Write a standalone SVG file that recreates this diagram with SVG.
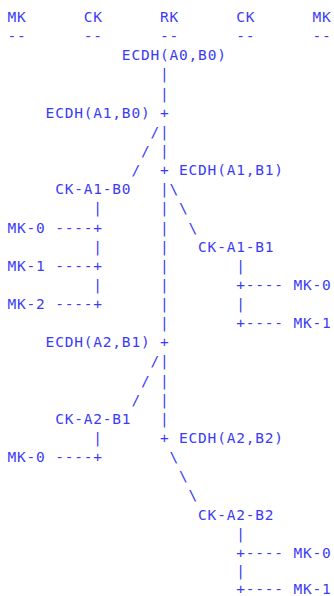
<svg xmlns="http://www.w3.org/2000/svg" width="334" height="596" viewBox="0 0 334 596">
<style>
text{font-family:"DejaVu Sans Mono","Liberation Mono",monospace;font-size:14.5px;letter-spacing:0.8px;fill:#3c3cf5;white-space:pre}
</style>
<rect width="334" height="596" fill="#ffffff"/>
<g id="hdr-mk-left"><text x="7.5" y="22">MK</text><text x="7.5" y="41.1">--</text></g>
<g id="hdr-ck-left"><text x="83.74" y="22">CK</text><text x="83.74" y="41.1">--</text></g>
<g id="hdr-rk"><text x="159.98" y="22">RK</text><text x="159.98" y="41.1">--</text></g>
<g id="hdr-ck-right"><text x="236.22" y="22">CK</text><text x="236.22" y="41.1">--</text></g>
<g id="hdr-mk-right"><text x="312.46" y="22">MK</text><text x="312.46" y="41.1">--</text></g>
<g id="ecdh-a0b0"><text x="121.86" y="60.3">ECDH(A0,B0)</text></g>
<g id="ecdh-a1b0"><text x="45.62" y="117.7">ECDH(A1,B0)</text></g>
<g id="ecdh-a1b1"><text x="179.04" y="175.1">ECDH(A1,B1)</text></g>
<g id="ck-a1b0"><text x="55.15" y="194.2">CK-A1-B0</text></g>
<g id="mk0-a1b0"><text x="7.5" y="232.5">MK-0</text></g>
<g id="ck-a1b1"><text x="198.1" y="251.6">CK-A1-B1</text></g>
<g id="mk1-a1b0"><text x="7.5" y="270.8">MK-1</text></g>
<g id="mk0-a1b1"><text x="293.4" y="289.9">MK-0</text></g>
<g id="mk2-a1b0"><text x="7.5" y="309">MK-2</text></g>
<g id="mk1-a1b1"><text x="293.4" y="328.1">MK-1</text></g>
<g id="ecdh-a2b1"><text x="45.62" y="347.3">ECDH(A2,B1)</text></g>
<g id="ck-a2b1"><text x="55.15" y="423.8">CK-A2-B1</text></g>
<g id="ecdh-a2b2"><text x="179.04" y="442.9">ECDH(A2,B2)</text></g>
<g id="mk0-a2b1"><text x="7.5" y="462.1">MK-0</text></g>
<g id="ck-a2b2"><text x="198.1" y="519.5">CK-A2-B2</text></g>
<g id="mk0-a2b2"><text x="293.4" y="557.5">MK-0</text></g>
<g id="mk1-a2b2"><text x="293.4" y="594">MK-1</text></g>
<g id="connectors">
<text x="159.98" y="79.4">|</text>
<text x="159.98" y="98.5">|</text>
<text x="159.98" y="117.7">+</text>
<text x="150.45" y="136.8">/|</text>
<text x="140.92" y="156">/ |</text>
<text x="131.39" y="175.1">/  +</text>
<text x="159.98" y="194.2">|\</text>
<text x="93.27" y="213.4">|      | \</text>
<text x="55.15" y="232.5">----+      |  \</text>
<text x="93.27" y="251.6">|      |</text>
<text x="55.15" y="270.8">----+      |       |</text>
<text x="93.27" y="289.9">|      |       +----</text>
<text x="55.15" y="309">----+      |       |</text>
<text x="159.98" y="328.1">|       +----</text>
<text x="159.98" y="347.3">+</text>
<text x="150.45" y="366.4">/|</text>
<text x="140.92" y="385.6">/ |</text>
<text x="131.39" y="404.7">/  |</text>
<text x="159.98" y="423.8">|</text>
<text x="93.27" y="442.9">|      +</text>
<text x="55.15" y="462.1">----+       \</text>
<text x="179.04" y="481.2">\</text>
<text x="188.57" y="500.4">\</text>
<text x="236.22" y="538.6">|</text>
<text x="236.22" y="557.5">+----</text>
<text x="236.22" y="576">|</text>
<text x="236.22" y="594">+----</text>
</g>
</svg>
